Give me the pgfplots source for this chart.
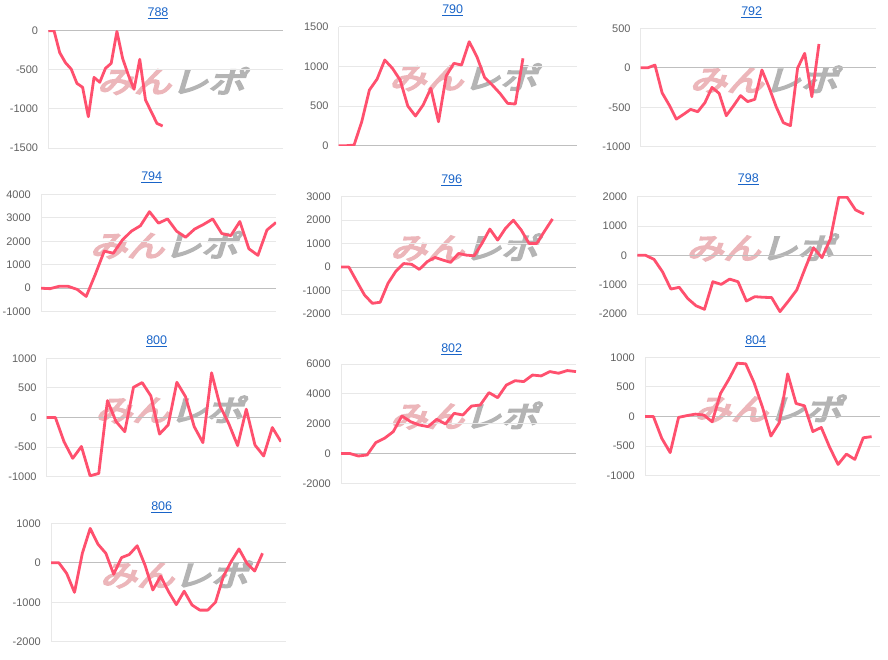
\documentclass[border=0pt]{standalone}
\usepackage{pgfplots}
\pgfplotsset{compat=1.18}
\usepackage{fontspec}
\setmainfont{Liberation Sans}
\newfontfamily\wmfont[FakeBold=6]{Noto Sans CJK JP}
\definecolor{linered}{RGB}{255,80,110}
\definecolor{titleblue}{RGB}{25,100,200}
\definecolor{wmpink}{RGB}{236,182,186}
\definecolor{wmgray}{RGB}{180,180,180}
\pgfplotsset{
  mini/.style={
    scale only axis, anchor=north west,
    axis line style={draw=none},
    major tick length=0pt,
    ymajorgrids, xmajorgrids,
    xtick={0}, xticklabels={},
    grid style={draw=black!9, line width=0.9pt},
    extra y ticks={0}, extra y tick labels={},
    extra y tick style={grid style={draw=black!25, line width=1pt}},
    yticklabel style={font=\fontsize{11}{12}\selectfont, text=black!62, inner sep=0pt, xshift=-10pt},
    xmin=0,
    cycle list={{color=linered}},
    every axis plot/.append style={line width=2.8pt, line join=round, no markers},
  }
}
\newcommand{\wm}[2]{\begin{scope}[shift={(#1pt,#2pt)}]\node[xslant=0.3,yscale=0.8,transform shape,inner sep=0pt]{\fontsize{37}{40}\wmfont\color{wmpink}みん\color{wmgray}レポ};\end{scope}}
\newcommand{\ttl}[3]{\node[font=\fontsize{12.5}{14}\selectfont, text=titleblue] at (#1pt,#2pt) {\underline{#3}};}
\begin{document}
\begin{tikzpicture}
\path (0,0) rectangle (888pt,660pt);
% watermarks
\wm{174.5}{579}
\wm{466.7}{582.8}
\wm{767.3}{580.5}
\wm{167.5}{415.0}
\wm{467.5}{412.6}
\wm{763.8}{412.6}
\wm{172.8}{250.5}
\wm{467.5}{244.4}
\wm{771.5}{251.5}
\wm{177.5}{85.5}
% titles
\ttl{158}{646.7}{788}
\ttl{452.7}{649.3}{790}
\ttl{751.7}{647.3}{792}
\ttl{151.7}{482.3}{794}
\ttl{451.7}{480}{796}
\ttl{748.3}{480.7}{798}
\ttl{156.7}{318.3}{800}
\ttl{451.7}{311}{802}
\ttl{755.7}{318.3}{804}
\ttl{161.7}{152.3}{806}

% 788
\begin{axis}[mini, at={(48.3pt,629.3pt)}, width=234.4pt, height=117.3pt,
  xmax=41, ymin=-1500, ymax=0, ytick={-1500,-1000,-500,0}, yticklabels={-1500,-1000,-500,0}]
\addplot coordinates {(0,0) (1,0) (2,-281) (3,-409) (4,-490) (5,-673) (6,-724) (7,-1100) (8,-597) (9,-660) (10,-481) (11,-418) (12,-10) (13,-354) (14,-567) (15,-750) (16,-366) (17,-886) (18,-1035) (19,-1185) (20,-1219)};
\end{axis}
% 790
\begin{axis}[mini, at={(338.7pt,633.3pt)}, width=238pt, height=119pt,
  xmax=31, ymin=0, ymax=1500, ytick={0,500,1000,1500}, yticklabels={0,500,1000,1500}]
\addplot coordinates {(0,0) (1,0) (2,8) (3,302) (4,702) (5,840) (6,1080) (7,975) (8,828) (9,500) (10,374) (11,513) (12,723) (13,302) (14,878) (15,1038) (16,1017) (17,1311) (18,1122) (19,861) (20,765) (21,660) (22,534) (23,525) (24,1101)};
\end{axis}
% 792
\begin{axis}[mini, at={(640.7pt,631.7pt)}, width=235.3pt, height=118.4pt,
  xmax=33, ymin=-1000, ymax=500, ytick={-1000,-500,0,500}, yticklabels={-1000,-500,0,500}]
\addplot coordinates {(0,0) (1,0) (2,34) (3,-317) (4,-473) (5,-651) (6,-591) (7,-527) (8,-557) (9,-443) (10,-249) (11,-325) (12,-607) (13,-484) (14,-353) (15,-429) (16,-400) (17,-28) (18,-249) (19,-494) (20,-696) (21,-734) (22,-5) (23,183) (24,-367) (25,301)};
\end{axis}
% 794
\begin{axis}[mini, at={(41pt,465.7pt)}, width=235pt, height=117.4pt,
  xmax=26, ymin=-1000, ymax=4000, ytick={-1000,0,1000,2000,3000,4000}, yticklabels={-1000,0,1000,2000,3000,4000}]
\addplot coordinates {(0,0) (1,-20) (2,80) (3,80) (4,-50) (5,-350) (6,580) (7,1580) (8,1490) (9,2050) (10,2430) (11,2660) (12,3260) (13,2770) (14,2950) (15,2430) (16,2170) (17,2520) (18,2720) (19,2950) (20,2330) (21,2240) (22,2840) (23,1680) (24,1400) (25,2480) (26,2800)};
\end{axis}
% 796
\begin{axis}[mini, at={(341pt,463.3pt)}, width=235pt, height=117.3pt,
  xmax=30, ymin=-2000, ymax=3000, ytick={-2000,-1000,0,1000,2000,3000}, yticklabels={-2000,-1000,0,1000,2000,3000}]
\addplot coordinates {(0,0) (1,0) (2,-600) (3,-1190) (4,-1545) (5,-1500) (6,-693) (7,-180) (8,150) (9,120) (10,-100) (11,230) (12,410) (13,300) (14,200) (15,580) (16,510) (17,480) (18,1010) (19,1620) (20,1150) (21,1650) (22,2000) (23,1580) (24,1010) (25,1010) (26,1540) (27,2050)};
\end{axis}
% 798
\begin{axis}[mini, at={(637.3pt,463.3pt)}, width=235pt, height=117.3pt,
  xmax=28, ymin=-2000, ymax=2000, ytick={-2000,-1000,0,1000,2000}, yticklabels={-2000,-1000,0,1000,2000}]
\addplot coordinates {(0,0) (1,0) (2,-140) (3,-560) (4,-1150) (5,-1090) (6,-1470) (7,-1720) (8,-1840) (9,-900) (10,-990) (11,-810) (12,-900) (13,-1560) (14,-1410) (15,-1430) (16,-1440) (17,-1920) (18,-1560) (19,-1180) (20,-440) (21,260) (22,-80) (23,560) (24,1980) (25,1980) (26,1550) (27,1410)};
\end{axis}
% 800
\begin{axis}[mini, at={(46.7pt,301.7pt)}, width=234.3pt, height=118.4pt,
  xmax=27, ymin=-1000, ymax=1000, ytick={-1000,-500,0,500,1000}, yticklabels={-1000,-500,0,500,1000}]
\addplot coordinates {(0,0) (1,0) (2,-410) (3,-690) (4,-490) (5,-985) (6,-945) (7,285) (8,-70) (9,-240) (10,510) (11,590) (12,365) (13,-280) (14,-125) (15,595) (16,350) (17,-155) (18,-425) (19,755) (20,185) (21,-110) (22,-475) (23,140) (24,-465) (25,-650) (26,-170) (27,-410)};
\end{axis}
% 802
\begin{axis}[mini, at={(341pt,296pt)}, width=235pt, height=119.3pt,
  xmax=27, ymin=-2000, ymax=6000, ytick={-2000,0,2000,4000,6000}, yticklabels={-2000,0,2000,4000,6000}]
\addplot coordinates {(0,0) (1,0) (2,-170) (3,-100) (4,730) (5,1020) (6,1460) (7,2510) (8,2130) (9,1910) (10,1800) (11,2290) (12,1980) (13,2690) (14,2580) (15,3180) (16,3250) (17,4080) (18,3740) (19,4590) (20,4880) (21,4820) (22,5260) (23,5200) (24,5490) (25,5380) (26,5560) (27,5490)};
\end{axis}
% 804
\begin{axis}[mini, at={(645pt,302.7pt)}, width=235pt, height=118.4pt,
  xmax=28, ymin=-1000, ymax=1000, ytick={-1000,-500,0,500,1000}, yticklabels={-1000,-500,0,500,1000}]
\addplot coordinates {(0,0) (1,0) (2,-370) (3,-610) (4,-15) (5,15) (6,40) (7,25) (8,-90) (9,390) (10,630) (11,900) (12,890) (13,570) (14,155) (15,-330) (16,-105) (17,720) (18,220) (19,180) (20,-255) (21,-185) (22,-520) (23,-810) (24,-635) (25,-725) (26,-360) (27,-340)};
\end{axis}
% 806
\begin{axis}[mini, at={(51pt,136.7pt)}, width=235pt, height=118.4pt,
  xmax=30, ymin=-2000, ymax=1000, ytick={-2000,-1000,0,1000}, yticklabels={-2000,-1000,0,1000}]
\addplot coordinates {(0,0) (1,0) (2,-270) (3,-750) (4,240) (5,870) (6,470) (7,240) (8,-290) (9,130) (10,210) (11,430) (12,-60) (13,-690) (14,-340) (15,-730) (16,-1060) (17,-720) (18,-1070) (19,-1200) (20,-1200) (21,-1000) (22,-350) (23,30) (24,350) (25,-10) (26,-210) (27,240)};
\end{axis}
\end{tikzpicture}
\end{document}
